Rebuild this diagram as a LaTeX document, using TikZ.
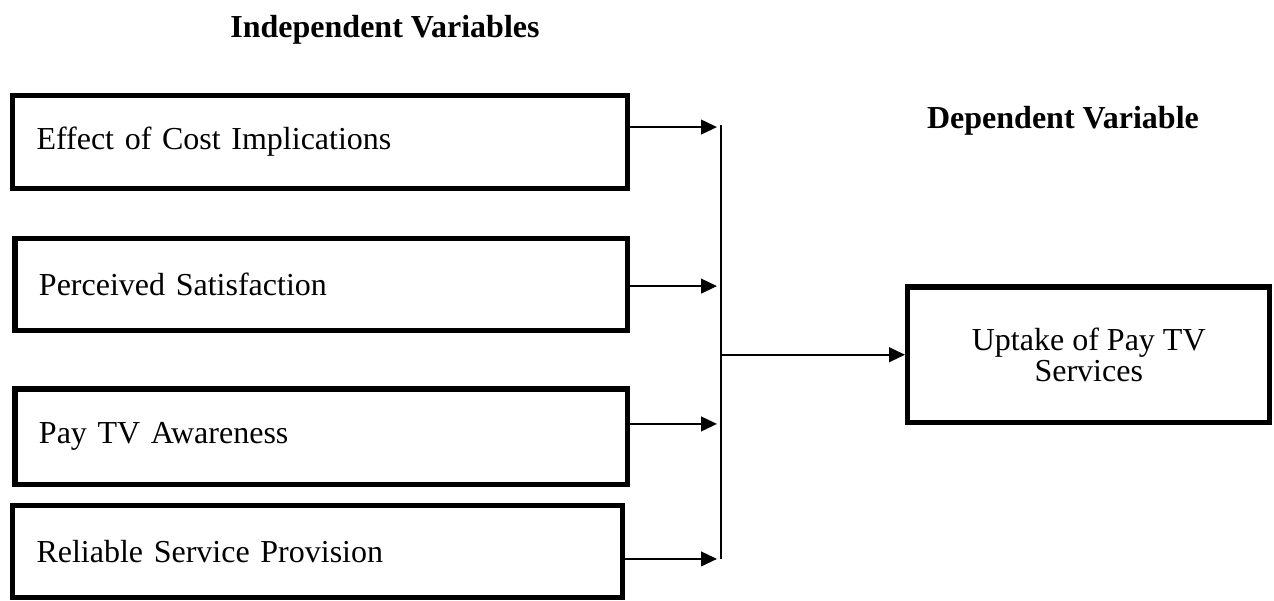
\documentclass[tikz,border=0pt]{standalone}
\usepackage{fontspec}
\setmainfont{Liberation Serif}
\usetikzlibrary{arrows.meta}
\tikzset{
  factor/.style={draw,line width=1.9pt,inner xsep=9pt,align=left,minimum height=35pt},
  heading/.style={font=\fontsize{12}{14}\selectfont\bfseries,anchor=base},
  feed/.style={line width=0.8pt,-{Triangle[length=6pt,width=5.5pt]},shorten >=1.5pt},
}
\begin{document}
\begin{tikzpicture}[x=0.375pt,y=-0.375pt,line cap=butt,line join=miter,font=\fontsize{12}{14}\selectfont]
  \useasboundingbox (0,0) rectangle (1274,601);
  \node[heading] (indep) at (385,38) {Independent Variables};
  \node[heading] (dep) at (1063,129) {Dependent Variable};
  % independent factors
  \node[factor,text width=212.6pt,minimum height=34.9pt] (cost) at (320,142) {Effect of Cost Implications};
  \node[factor,text width=211.7pt,minimum height=34.5pt] (satis) at (321.25,284.5) {Perceived Satisfaction};
  \node[factor,text width=211.7pt,minimum height=35.8pt] (aware) at (321.25,436.75) {Pay TV Awareness};
  \node[factor,text width=210.75pt,minimum height=34.5pt] (relia) at (317.5,551.5) {Reliable Service Provision};
  % dependent
  \node[draw,line width=1.9pt,minimum width=135.9pt,minimum height=50.8pt,align=center,
    font=\fontsize{12}{11.5}\selectfont] (uptake) at (1088.75,354.75) {Uptake of Pay TV\\Services};
  \coordinate (spinetop) at (721,125);
  \coordinate (spinebot) at (721,559);
  \coordinate (costout) at ([yshift=5.6pt]cost.east);
  \coordinate (satisout) at ([yshift=-0.6pt]satis.east);
  \coordinate (awareout) at ([yshift=4.8pt]aware.east);
  \coordinate (reliaout) at ([yshift=-2.8pt]relia.east);
  \draw[line width=0.55pt] (spinetop) -- (spinebot);
  \draw[feed] (costout) -- (spinetop |- costout);
  \draw[feed] (satisout) -- (spinetop |- satisout);
  \draw[feed] (awareout) -- (spinetop |- awareout);
  \draw[feed] (reliaout) -- (spinetop |- reliaout);
  \draw[feed,shorten >=0pt] (spinetop |- uptake.west) -- (uptake.west);
\end{tikzpicture}
\end{document}
